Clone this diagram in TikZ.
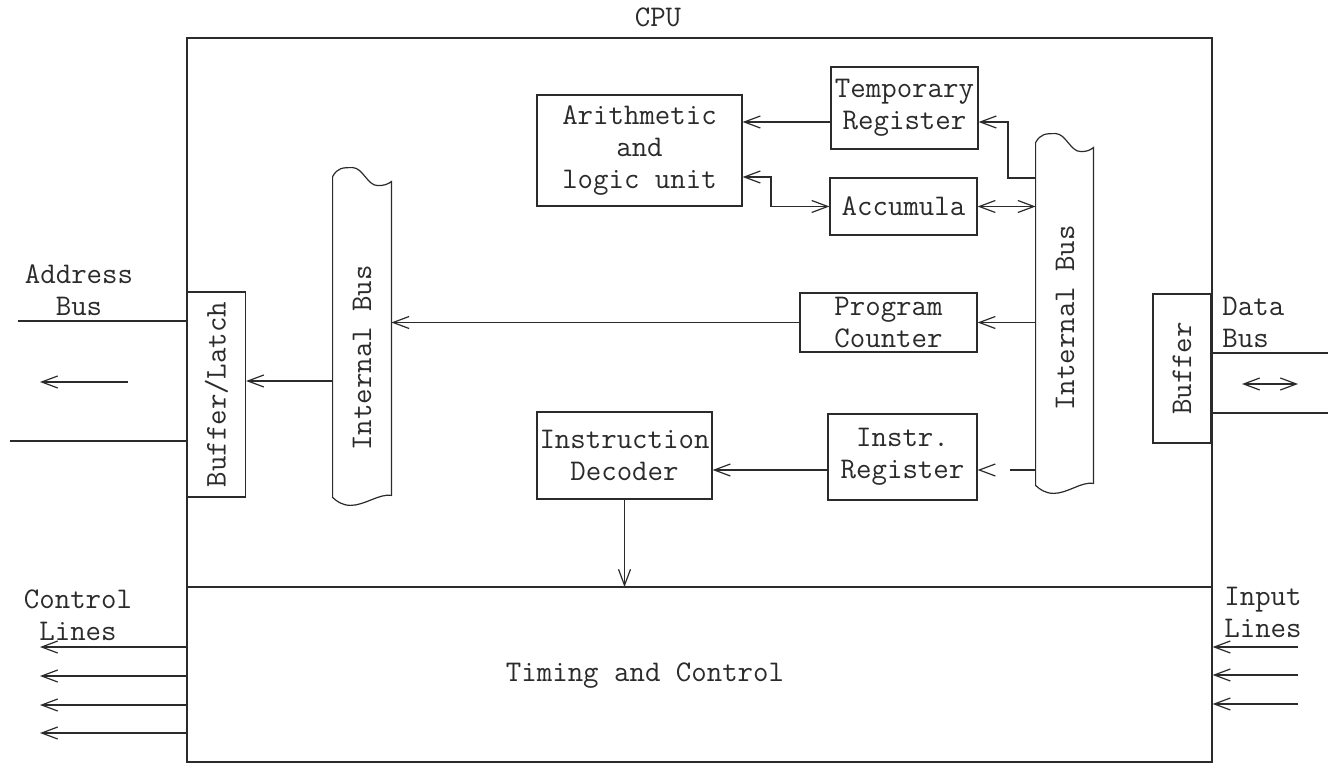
\documentclass[tikz,border=0pt]{standalone}
\usetikzlibrary{arrows.meta,calc}
\definecolor{ink}{HTML}{2B2B2B}
\begin{document}
\begin{tikzpicture}[x=0.5pt,y=-0.5pt,
  line/.style={draw=ink, line width=0.6pt},
  txt/.style={font=\ttfamily\fontsize{15}{16}\selectfont, text=ink, align=center, inner sep=0pt},
  box/.style={line, txt},
  tip/.tip={Straight Barb[length=8pt,width=6pt]},
  arr/.style={line, -tip},
  arrs/.style={line, tip-tip}]
\useasboundingbox (0,0) rectangle (1328,764);
\fill[white] (0,0) rectangle (1328,764);

% helper: outline of an internal bus with wavy ends
\newcommand\drawbus[1]{%
  \draw[line] (#1.south west) -- (#1.north west)
    .. controls +(5,-9) and +(-10,0) .. ($(#1.north west)+(20,-9)$)
    .. controls +(10,0) and +(-10,0) .. ($(#1.north west)+(45,9)$)
    .. controls +(6,0) and +(-4,3) .. ($(#1.north east)+(0,5)$)
    -- ($(#1.south east)+(0,-2)$)
    .. controls +(-12,-2) and +(14,0) .. ($(#1.south west)+(18,8)$)
    .. controls +(-8,0) and +(4,4) .. (#1.south west) -- cycle;}

% CPU frame and the Timing and Control section
\node[line, minimum width=512.5pt, minimum height=362pt, inner sep=0pt] (cpu) at (699.5,400) {};
\node[txt] (cpulabel) at (658,17) {CPU};
\coordinate (div) at (0,587);
\draw[line] (cpu.west |- div) -- (cpu.east |- div);
\node[txt] (timing) at (645,676) {Timing and Control};

% functional blocks
\node[box, minimum width=102.5pt, minimum height=55.5pt] (alu) at (639.5,150.5) {Arithmetic\\and\\logic unit};
\node[box, minimum width=73.5pt, minimum height=41pt] (temp) at (904.5,108) {Temporary\\Register};
\node[box, minimum width=73.5pt, minimum height=28.5pt] (acc) at (903.5,206.5) {Accumula};
\node[box, minimum width=88.5pt, minimum height=29.5pt] (pc) at (888.5,322.5) {Program\\Counter};
\node[box, minimum width=74.5pt, minimum height=43pt] (ir) at (902.5,457) {Instr.\\Register};
\node[box, minimum width=87.5pt, minimum height=43.5pt] (id) at (624.5,455.5) {Instruction\\Decoder};

% buffers at the CPU edges
\node[line, minimum width=29pt, minimum height=102.5pt, inner sep=0pt] (bufl) at (216.5,394.5) {};
\node[txt, rotate=90] (bufltext) at (bufl.center) {Buffer/Latch};
\node[line, minimum width=29pt, minimum height=74.5pt, inner sep=0pt] (buf) at (1182,368.5) {};
\node[txt, rotate=90] (buftext) at (buf.center) {Buffer};

% internal buses
\node[minimum width=29pt, minimum height=160pt, inner sep=0pt] (lbus) at (362,337) {};
\drawbus{lbus}
\node[txt, rotate=90] (lbustext) at (362,358) {Internal Bus};
\node[minimum width=28.5pt, minimum height=171pt, inner sep=0pt] (rbus) at (1064.5,314) {};
\drawbus{rbus}
\node[txt, rotate=90] (rbustext) at (1065,318) {Internal Bus};

% internal connections
\coordinate (tA) at (0,122);
\coordinate (tB) at (0,177);
\coordinate (jA) at (771,206.5);
\coordinate (jB) at (1008,178);
\coordinate (tC) at (0,470);
\coordinate (tD) at (0,381);
\draw[arr] (temp.west |- tA) -- (alu.east |- tA);
\draw[arrs] (alu.east |- tB) -| (jA) -- (acc.west);
\draw[arrs, dash pattern=on 33pt off 4pt] (acc.east) -- (rbus.west |- acc.east);
\draw[arr] (rbus.west |- jB) -- (jB) |- (temp.east |- tA);
\draw[arr] (rbus.west |- pc.east) -- (pc.east);
\draw[arr] (pc.west) -- (lbus.east |- pc.west);
\draw[arr, dash pattern=on 13pt off 40pt] (rbus.west |- tC) -- (ir.east |- tC);
\draw[arr] (ir.west |- tC) -- (id.east |- tC);
\draw[arr] (id.south) -- (id.south |- div);
\draw[arr] (lbus.west |- tD) -- (bufl.east |- tD);

% address bus
\node[txt] (addr) at (79,290) {Address\\Bus};
\coordinate (a1) at (18,321);
\coordinate (a2) at (10,441);
\coordinate (aa1) at (128,382);
\coordinate (aa2) at (40,382);
\draw[line] (a1) -- (bufl.west |- a1);
\draw[line] (a2) -- (bufl.west |- a2);
\draw[arr] (aa1) -- (aa2);

% data bus
\node[txt, align=left, anchor=west] (data) at (1222,322) {Data\\Bus};
\coordinate (d1) at (1328,353);
\coordinate (d2) at (1328,413);
\coordinate (dd1) at (1242,384);
\coordinate (dd2) at (1298,384);
\draw[line] (buf.east |- d1) -- (d1);
\draw[line] (buf.east |- d2) -- (d2);
\draw[arrs] (dd1) -- (dd2);

% control lines
\node[txt] (ctrl) at (78,615) {Control\\Lines};
\foreach \y [count=\i] in {647,676,705,733} {
  \coordinate (c\i) at (40,\y);
  \draw[arr] (cpu.west |- c\i) -- (c\i);
}

% input lines
\node[txt] (inp) at (1263,612) {Input\\Lines};
\foreach \y [count=\i] in {647,675,704} {
  \coordinate (n\i) at (1298,\y);
  \draw[arr] (n\i) -- (cpu.east |- n\i);
}
\end{tikzpicture}
\end{document}
